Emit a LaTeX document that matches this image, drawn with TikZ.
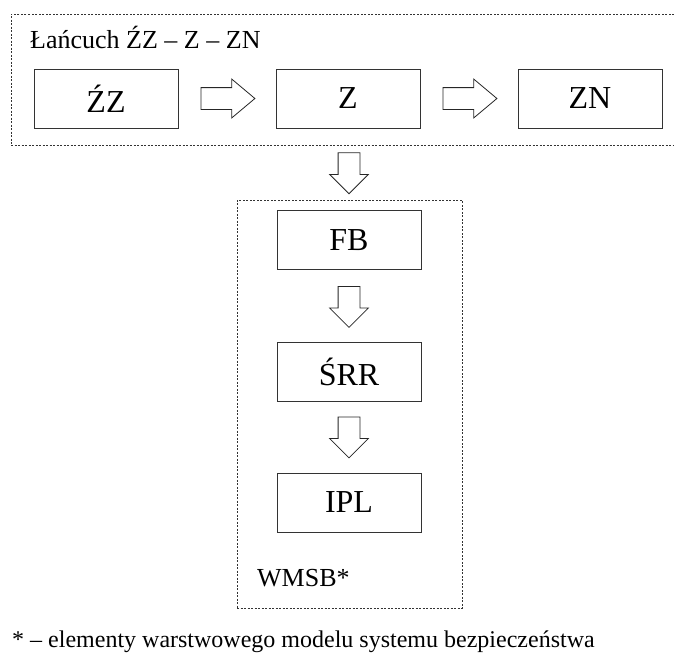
\documentclass[tikz,border=0pt]{standalone}
\usepackage{fontspec}
\setmainfont{Liberation Serif}
\usetikzlibrary{shapes.arrows}
\begin{document}
\begin{tikzpicture}[x=1pt, y=-1pt,
every node/.style={font=\fontsize{26}{30}\selectfont},
blok/.style={draw=black!80, line width=1pt, minimum width=144pt, minimum height=59pt, font=\fontsize{32}{36}\selectfont},
ramka/.style={draw=black!80, line width=0.8pt, dash pattern=on 2pt off 1.5pt, inner sep=0pt},
strzalkap/.style={draw=black!85, single arrow, anchor=tail, inner xsep=0pt, inner ysep=10.5pt, minimum width=38pt, minimum height=54pt, single arrow head extend=8.5pt, single arrow tip angle=80, line width=0.8pt},
strzalkad/.style={strzalkap, inner xsep=10.5pt, inner ysep=0pt, minimum height=41pt, single arrow tip angle=90, shape border rotate=270},
opis/.style={anchor=base west, inner sep=0pt}
]
\useasboundingbox (0,0) rectangle (674,653);
\clip (0,0) rectangle (674,653);
% Ramki
\node[ramka, minimum width=679pt, minimum height=131pt] (lancuch) at (350.5,79.5) {};
\node[ramka, minimum width=225pt, minimum height=408pt] (wmsb) at (349.5,404) {};
\node[opis] (lancuchopis) at (30,48) {Łańcuch ŹZ – Z – ZN};
\node[opis] (wmsbopis) at (257,586) {WMSB*};
% Lancuch
\node[blok] (zz) at (106,98.5) {ŹZ};
\node[blok] (z) at (348,98.5) {Z};
\node[blok] (zn) at (590,98.5) {ZN};
% Warstwy
\node[blok] (fb) at (349,240) {FB};
\node[blok] (srr) at (349,371.5) {ŚRR};
\node[blok] (ipl) at (349,502.5) {IPL};
% Strzalki
\node[strzalkap] (s1) at ([xshift=22pt]zz.east) {};
\node[strzalkap] (s2) at ([xshift=22pt]z.east) {};
\node[strzalkad] (s3) at ([yshift=-7pt]lancuch.south -| fb.north) {};
\node[strzalkad] (s4) at ([yshift=-16pt]fb.south) {};
\node[strzalkad] (s5) at ([yshift=-15pt]srr.south) {};
% Przypis
\node[opis, font=\fontsize{24}{28}\selectfont] (przypis) at (12,647) {* – elementy warstwowego modelu systemu bezpieczeństwa};
\end{tikzpicture}
\end{document}
